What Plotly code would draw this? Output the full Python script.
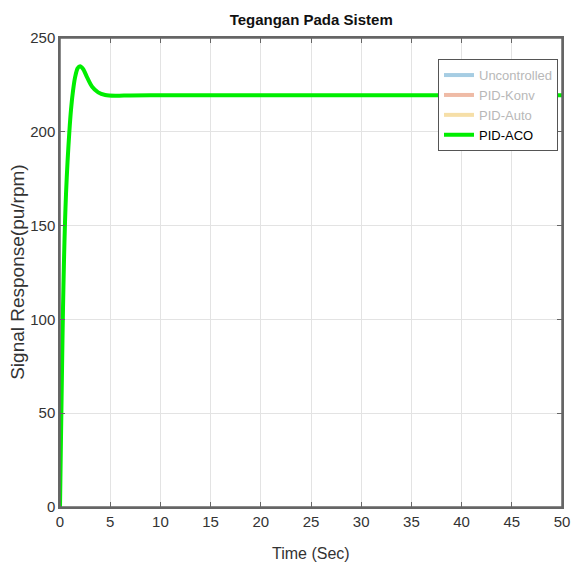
import plotly.graph_objects as go

# Data
time_s = [0, 0.1, 0.2, 0.3, 0.4, 0.5, 0.6, 0.75, 0.93, 1.1, 1.3, 1.5, 1.75, 2.0, 2.3, 2.7, 3.2, 3.8, 4.5, 5.5, 7, 10, 20, 30, 40, 50]
pid_aco = [0, 37, 73, 106, 132, 152, 167, 184, 200, 212, 222, 229, 233.8, 235, 233.5, 229, 224, 221, 219.6, 219.2, 219.4, 219.5, 219.5, 219.5, 219.5, 219.5]

series_names = ["Uncontrolled", "PID-Konv", "PID-Auto", "PID-ACO"]
series_colors = ["#a6cde3", "#efbba6", "#f6dfa8", "#00ee00"]
label_colors = ["#b8b8b8", "#b8b8b8", "#b8b8b8", "#000000"]

x_ticks = [0, 5, 10, 15, 20, 25, 30, 35, 40, 45, 50]
y_ticks = [0, 50, 100, 150, 200, 250]

font_fam = "Liberation Sans, Arial, sans-serif"

fig = go.Figure()
for name, col, lcol in zip(series_names, series_colors, label_colors):
    if name == "PID-ACO":
        xs, ys = time_s, pid_aco
    else:
        xs, ys = [None], [None]
    fig.add_trace(go.Scatter(
        x=xs, y=ys, mode="lines",
        name=f"<span style='color:{lcol}'>{name}</span>",
        line=dict(color=col, width=4, shape="spline", smoothing=0.8),
    ))

axis_common = dict(
    showline=True, linecolor="#666666", linewidth=1.5, mirror="ticks",
    showgrid=True, gridcolor="#e3e3e3", gridwidth=1,
    ticks="inside", ticklen=5, tickcolor="#666666",
    tickfont=dict(family=font_fam, size=15, color="#333333"),
    zeroline=False, automargin=False, ticklabeloverflow="allow",
)

fig.update_layout(
    width=571, height=575,
    paper_bgcolor="white", plot_bgcolor="white",
    margin=dict(l=60, r=9, t=38, b=68),
    title=dict(text="<b>Tegangan Pada Sistem</b>", x=0.545, xanchor="center", y=0.966, yanchor="middle",
               font=dict(family=font_fam, size=15, color="#111111")),
    xaxis=dict(range=[0, 50], tickvals=x_ticks, **axis_common),
    yaxis=dict(range=[0, 250], tickvals=y_ticks, **axis_common),
    legend=dict(x=0.753, y=0.955, xanchor="left", yanchor="top",
                bgcolor="white", bordercolor="#555555", borderwidth=1,
                font=dict(family=font_fam, size=13, color="#000000"),
                tracegroupgap=0, itemwidth=30),
    showlegend=True,
    shapes=[dict(type="rect", xref="paper", yref="paper", x0=0, x1=1, y0=0, y1=1,
                 line=dict(color="#666666", width=1.5), fillcolor="rgba(0,0,0,0)", layer="above")],
    annotations=[
        dict(text="Time (Sec)", xref="paper", yref="paper", x=0.5, y=-0.1,
             xanchor="center", yanchor="middle", showarrow=False,
             font=dict(family=font_fam, size=16, color="#333333")),
        dict(text="Signal Response(pu/rpm)", xref="paper", yref="paper", x=-0.085, y=0.5,
             xanchor="center", yanchor="middle", showarrow=False, textangle=-90,
             font=dict(family=font_fam, size=19, color="#333333")),
    ],
)

fig.write_html("out.html", config={"displayModeBar": False},
               post_script="document.body.style.margin='0px';document.body.style.overflow='hidden';")
